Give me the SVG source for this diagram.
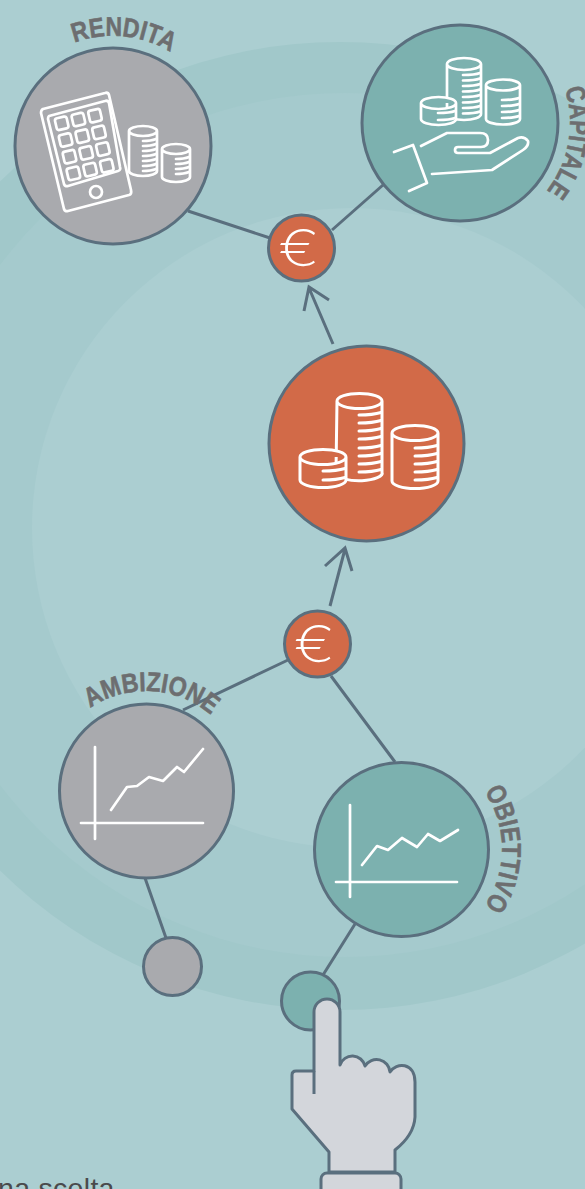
<svg xmlns="http://www.w3.org/2000/svg" xmlns:xlink="http://www.w3.org/1999/xlink" width="585" height="1189" viewBox="0 0 585 1189">
<style>
.n{stroke:#5a6f7e;stroke-width:3}
.g{fill:#a9aaae}.t{fill:#7cb1af}.o{fill:#d26a48}
.c{fill:none;stroke:#5a6f7e;stroke-width:3;stroke-linecap:butt}
.i{fill:none;stroke:#fff;stroke-width:2.700;stroke-linejoin:round;stroke-linecap:round}
.l{font-family:"Liberation Sans",sans-serif;font-weight:700;font-size:27px;fill:#6d6e70;stroke:#6d6e70;stroke-width:.6}
.e{font-family:Inter,"Liberation Sans",sans-serif;font-weight:200;font-size:50px;fill:#fff;text-anchor:middle}
</style>
<defs>
<path id="pr" d="M7 116.6A110 110 0 0 1 222.7 137.4"/>
<path id="pc" d="M497.6 19.6A110 110 0 0 1 460 233"/>
<path id="pa" d="M48.7 768A100 100 0 0 1 245.3 779.3"/>
<path id="po" d="M418.5 749.5A101 101 0 0 1 418.5 948.5"/>
<rect id="k" x="-6" y="-6" width="12" height="12" rx="2.5"/>
</defs>
<rect id="bg" width="585" height="1189" fill="#abced1"/>
<circle cx="340" cy="526" r="484" fill="#a1c8ca"/>
<circle cx="345" cy="525" r="432" fill="#a5cacd"/>
<circle cx="352" cy="528" r="320" fill="#abced1"/>
<g id="connectors">
<path class="c" d="M188 211L270 238M332 230L383 185"/>
<path class="c" stroke-linecap="round" d="M333 344L309 288M304 311L309 287L329 300"/>
<path class="c" d="M330 606L345 549M325 566L345 548L352 571"/>
<path class="c" d="M183 710L288 660M331 676L395 762M145 878L166 938M355 924L323 975"/>
</g>
<g id="rendita">
<circle class="n g" cx="113" cy="146" r="98"/>
<g class="i">
<path d="M43 109L105 93Q108 92 109 95L131 190Q132 194 129 195L68 211Q65 212 64 209L41 113Q41 110 43 109Z"/>
<path d="M49 116L105 101Q108 100 109 103L120 167Q121 170 118 171L68 186Q65 187 64 184L48 119Q48 117 49 116Z"/>
<circle cx="96" cy="192" r="6"/>
<use href="#k" transform="translate(61.700 123.300) rotate(-13)"/><use href="#k" transform="translate(78.400 119.500) rotate(-13)"/><use href="#k" transform="translate(95 115.700) rotate(-13)"/>
<use href="#k" transform="translate(65.600 140) rotate(-13)"/><use href="#k" transform="translate(82.300 136.200) rotate(-13)"/><use href="#k" transform="translate(99 132.400) rotate(-13)"/>
<use href="#k" transform="translate(69.500 156.700) rotate(-13)"/><use href="#k" transform="translate(86.200 152.900) rotate(-13)"/><use href="#k" transform="translate(102.900 149.100) rotate(-13)"/>
<use href="#k" transform="translate(73.400 173.400) rotate(-13)"/><use href="#k" transform="translate(90.100 169.600) rotate(-13)"/><use href="#k" transform="translate(106.800 165.800) rotate(-13)"/>
<path d="M129 131A14 5 0 1 1 157 131A14 5 0 1 1 129 131M129 131V171A14 5 0 0 0 157 171V131"/>
<path d="M143 141q8 0 13-2M143 146q8 0 13-2M143 151q8 0 13-2M143 156q8 0 13-2M143 161q8 0 13-2M143 166q8 0 13-2M143 171q8 0 13-2"/>
<path d="M162 149A14 5 0 1 1 190 149A14 5 0 1 1 162 149M162 149V177A14 5 0 0 0 190 177V149"/>
<path d="M176 159q8 0 13-2M176 164q8 0 13-2M176 169q8 0 13-2M176 174q8 0 13-2"/>
</g>
<text class="l"><textPath href="#pr" startOffset="50%" text-anchor="middle" textLength="100" lengthAdjust="spacingAndGlyphs">RENDITA</textPath></text>
</g>
<g id="capitale">
<circle class="n t" cx="460" cy="123" r="98"/>
<g class="i">
<path d="M447 64A17 6 0 1 1 481 64A17 6 0 1 1 447 64M447 64V114A17 6 0 0 0 481 114V64"/>
<path d="M463 75q12 0 17-2M463 80.500q12 0 17-2M463 86q12 0 17-2M463 91.500q12 0 17-2M463 97q12 0 17-2M463 102.500q12 0 17-2M463 108q12 0 17-2M463 113.500q12 0 17-2"/>
<path d="M486 85A17 5.500 0 1 1 520 85A17 5.500 0 1 1 486 85M486 85V119A17 5.500 0 0 0 520 119V85"/>
<path d="M502 100q12 0 17-2M502 106q12 0 17-2M502 112q12 0 17-2M502 118q12 0 17-2"/>
<path fill="#7cb1af" d="M421 103A17.500 6 0 1 1 456 103A17.500 6 0 1 1 421 103M421 103V119A17.500 6 0 0 0 456 119V103"/>
<path d="M438 113q12 0 17-2M438 120q12 0 17-2"/>
<path d="M394 152L413 145L427 183L409 191"/>
<path d="M421 146L447 133H480Q488 133 488 140Q488 147 481 147H458Q455 147 455 150Q455 153 458 153H490L518 138Q524 136 528 141Q529 146 523 150L492 170L432 174"/>
</g>
<text class="l"><textPath href="#pc" startOffset="50%" text-anchor="middle" textLength="108" lengthAdjust="spacingAndGlyphs">CAPITALE</textPath></text>
</g>
<g id="euro-top">
<circle class="n o" cx="301.500" cy="248" r="33"/>
<text class="e" transform="translate(299 265.500) scale(1.22 1)">€</text>
</g>
<g id="monete">
<circle class="n o" cx="366.500" cy="443.500" r="97.500"/>
<g class="i" style="stroke-width:3">
<path d="M337 401A22.500 7.500 0 1 1 382 401A22.500 7.500 0 1 1 337 401M337 401L336 470M382 401V472A22.500 7.500 0 0 1 336 474"/>
<path d="M359 415q14 0 22-2.500M359 423q14 0 22-2.500M359 431q14 0 22-2.500M359 439q14 0 22-2.500M359 448q14 0 22-2.500M359 456q14 0 22-2.500M359 464q14 0 22-2.500M359 472q14 0 22-2.500"/>
<path d="M392 433A23 7.500 0 1 1 438 433A23 7.500 0 1 1 392 433M392 433V481A23 7.500 0 0 0 438 481V433"/>
<path d="M415 448q14 0 22-2.500M415 456q14 0 22-2.500M415 464q14 0 22-2.500M415 472q14 0 22-2.500M415 480q14 0 22-2.500"/>
<path fill="#d26a48" d="M300 457A23 7.500 0 1 1 346 457A23 7.500 0 1 1 300 457M300 457V480A23 7.500 0 0 0 346 480V457"/>
<path d="M323 471q14 0 22-2.500M323 480q14 0 22-2.500"/>
</g>
</g>
<g id="euro-bottom">
<circle class="n o" cx="317.500" cy="644" r="33"/>
<text class="e" transform="translate(314.500 662) scale(1.22 1)">€</text>
</g>
<g id="ambizione">
<circle class="n g" cx="146.500" cy="791" r="87"/>
<path class="i" d="M95 747V839M81 823H203M111 810L127 787L137 786L149 777L163 781L177 767L184 772L203 749"/>
<text class="l"><textPath href="#pa" startOffset="50%" text-anchor="middle" textLength="130" lengthAdjust="spacingAndGlyphs">AMBIZIONE</textPath></text>
</g>
<g id="obiettivo">
<circle class="n t" cx="401.500" cy="849.500" r="87"/>
<path class="i" d="M350 805V897M336 882H457M362 865L377 846L388 850L402 838L417 847L428 834L440 841L458 830"/>
<text class="l"><textPath href="#po" startOffset="50%" text-anchor="middle" textLength="122" lengthAdjust="spacingAndGlyphs">OBIETTIVO</textPath></text>
</g>
<g id="punto-grigio"><circle class="n g" cx="172.500" cy="966.500" r="29"/></g>
<g id="punto-verde"><circle class="n t" cx="310.500" cy="1001" r="29"/></g>
<g id="mano">
<rect x="321" y="1173" width="80" height="40" rx="6" fill="#d3d6db" stroke="#5a6f7e" stroke-width="3"/>
<path fill="#d3d6db" stroke="#5a6f7e" stroke-width="3" stroke-linejoin="round" d="M314 1071V1012A13 13 0 0 1 340 1012V1065A13 13 0 0 1 365 1066A13.500 13.500 0 0 1 390 1072C396 1062 415 1062 415 1082V1117Q414 1135 395 1150V1172H329V1152L292 1109V1075Q292 1071 296 1071Z"/>
<path fill="none" stroke="#5a6f7e" stroke-width="3" d="M314 1071V1094"/>
</g>
<text id="didascalia" x="-2" y="1198" font-family="'Liberation Sans',sans-serif" font-size="28.500" letter-spacing=".3" fill="#4a4a4c">na scelta</text>
</svg>
